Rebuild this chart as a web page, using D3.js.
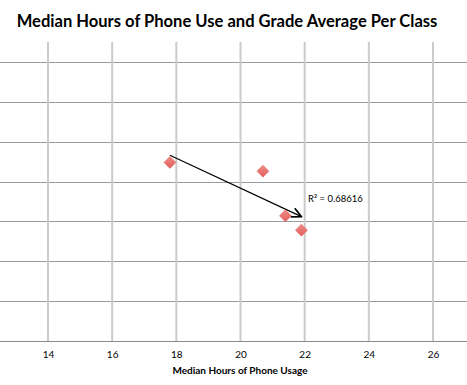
<html>
  <head>
    <meta charset="utf-8">
    <title>Median Hours of Phone Use and Grade Average</title>
    <style>
    body{
      margin: 0;
      background-color: white;
    }
    </style>
    <script src="https://d3js.org/d3.v7.min.js"></script>
  </head>
  <body>
    <div id="container"></div>
    <script>
    //size of the page
    const width = 467,
          height = 385;

    //data (y axis has no labels, so grade values are estimates)
    var hours = [17.8, 20.7, 21.4, 21.9];
    var grades = [82.4, 81.3, 75.7, 73.9];
    var xTicks = [14, 16, 18, 20, 22, 24, 26];
    var yTicks = [60, 65, 70, 75, 80, 85, 90, 95];
    var rSquaredLabel = "R\u00B2 = 0.68616";

    var x = d3.scaleLinear().domain([14, 26]).range([48, 433]);
    var y = d3.scaleLinear().domain([60, 97.5]).range([341, 42]);

    var font = "Lato, 'Open Sans', sans-serif";

    var svg = d3.select("#container")
      .append("svg")
      .attr("width", width)
      .attr("height", height)
      .style("display", "block");

    //title: shrink the font until it is as wide as in the picture (about 421px)
    var title = svg.append("text")
      .attr("x", 227)
      .attr("y", 27)
      .attr("text-anchor", "middle")
      .style("font-family", font)
      .style("font-weight", "bold")
      .style("font-size", "19px")
      .text("Median Hours of Phone Use and Grade Average Per Class");
    var natural = title.node().getComputedTextLength();
    if (natural > 421) {
      title.style("font-size", (19 * 421 / natural) + "px");
    }

    //horizontal grid lines (dark, thin)
    svg.append("g")
      .selectAll("line")
      .data(yTicks)
      .enter()
      .append("line")
      .attr("x1", 0)
      .attr("x2", width)
      .attr("y1", function(d) {return Math.round(y(d)) + 0.5;})
      .attr("y2", function(d) {return Math.round(y(d)) + 0.5;})
      .attr("stroke", function(d) {return d == 60 ? "#8a8a8a" : "#9a9a9a";})
      .attr("stroke-width", 1);

    //vertical grid lines (light, thicker)
    svg.append("g")
      .selectAll("line")
      .data(xTicks)
      .enter()
      .append("line")
      .attr("x1", function(d) {return x(d);})
      .attr("x2", function(d) {return x(d);})
      .attr("y1", y(97.5))
      .attr("y2", y(60))
      .attr("stroke", "#cbcbcb")
      .attr("stroke-width", 2);

    //x axis using d3 axis, then restyled
    var xAxis = svg.append("g")
      .attr("transform", "translate(0," + (Math.round(y(60)) + 0.5) + ")")
      .call(d3.axisBottom(x).tickValues(xTicks).tickSize(0).tickPadding(9));
    xAxis.select(".domain").remove();
    xAxis.selectAll("text")
      .style("font-family", font)
      .style("font-size", "10px")
      .attr("fill", "#000");

    //axis title
    svg.append("text")
      .attr("x", 240)
      .attr("y", 374)
      .attr("text-anchor", "middle")
      .style("font-family", font)
      .style("font-weight", "bold")
      .style("font-size", "10px")
      .text("Median Hours of Phone Usage");

    //least squares trend line
    var mx = d3.mean(hours), my = d3.mean(grades);
    var sxy = d3.sum(hours, function(d, i) {return (d - mx) * (grades[i] - my);});
    var sxx = d3.sum(hours, function(d) {return (d - mx) * (d - mx);});
    var slope = sxy / sxx;
    var intercept = my - slope * mx;
    var trendX = d3.extent(hours);

    svg.append("defs")
      .append("marker")
      .attr("id", "arrow")
      .attr("viewBox", "0 0 10 10")
      .attr("refX", 9)
      .attr("refY", 5)
      .attr("markerWidth", 12)
      .attr("markerHeight", 12)
      .attr("markerUnits", "userSpaceOnUse")
      .attr("orient", "auto")
      .append("path")
      .attr("d", "M1,1 L9,5 L1,9")
      .attr("fill", "none")
      .attr("stroke", "#000")
      .attr("stroke-width", 1.4);

    svg.append("line")
      .attr("x1", x(trendX[0]))
      .attr("y1", y(intercept + slope * trendX[0]))
      .attr("x2", x(trendX[1]))
      .attr("y2", y(intercept + slope * trendX[1]))
      .attr("stroke", "#000")
      .attr("stroke-width", 1.2)
      .attr("marker-end", "url(#arrow)");

    svg.append("text")
      .attr("x", 308)
      .attr("y", 202)
      .style("font-family", font)
      .style("font-size", "9.5px")
      .attr("fill", "#000")
      .text(rSquaredLabel);

    //diamond markers
    var grad = svg.select("defs")
      .append("linearGradient")
      .attr("id", "diam")
      .attr("x1", 0).attr("y1", 0).attr("x2", 0).attr("y2", 1);
    grad.append("stop").attr("offset", "0%").attr("stop-color", "#f08a86");
    grad.append("stop").attr("offset", "100%").attr("stop-color", "#e2605d");

    svg.append("g")
      .selectAll("path")
      .data(hours)
      .enter()
      .append("path")
      .attr("transform", function(d, i) {return "translate(" + x(d) + "," + y(grades[i]) + ")";})
      .attr("d", "M0,-6 L6,0 L0,6 L-6,0 Z")
      .attr("fill", "url(#diam)")
      .attr("stroke", "#d9605c")
      .attr("stroke-width", 0.5);
    </script>
  </body>
</html>
